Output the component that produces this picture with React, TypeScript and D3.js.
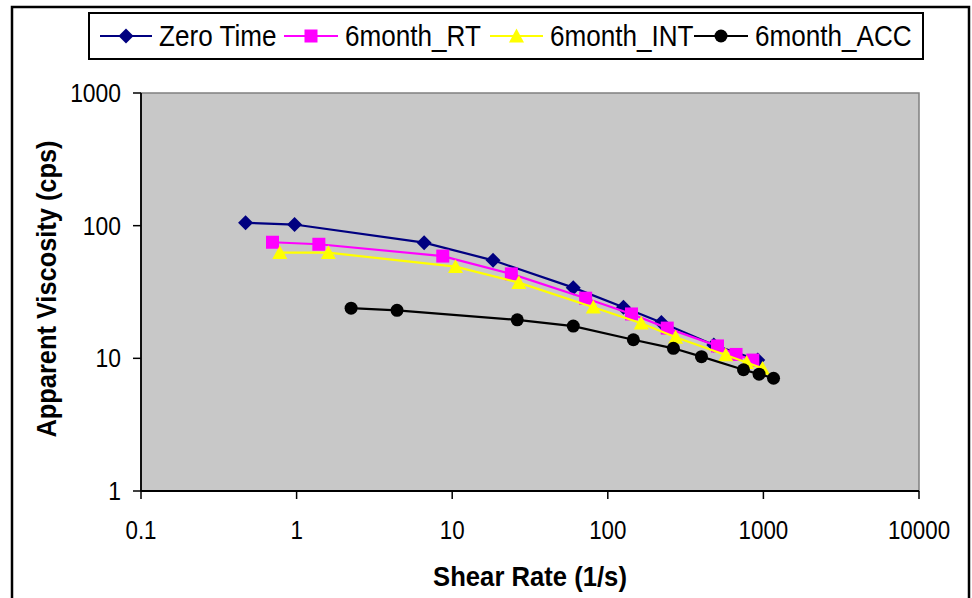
import React from "react";
import * as d3 from "d3";

const zeroX = [0.47, 0.97, 6.6, 18.3, 60, 126, 221, 480, 920];
const zeroY = [105, 102, 74.5, 54.8, 34.1, 24.3, 18.6, 12.6, 9.7];
const rtX = [0.7, 1.39, 8.7, 24, 72, 142, 241, 507, 667, 855];
const rtY = [75, 72.4, 59, 43.3, 28.4, 21.6, 16.9, 12.4, 10.7, 9.7];
const intX = [0.78, 1.6, 10.5, 26.8, 80.7, 164, 273, 573, 781, 986];
const intY = [62.6, 62.6, 49.1, 37.2, 24.3, 18.4, 14.4, 10.6, 9.3, 8.4];
const accX = [2.24, 4.42, 26.2, 60, 146, 264, 400, 745, 938, 1162];
const accY = [23.9, 23.0, 19.5, 17.5, 13.8, 11.9, 10.3, 8.2, 7.6, 7.08];

const xTicks = [0.1, 1, 10, 100, 1000, 10000];
const yTicks = [1, 10, 100, 1000];
const xTickLabels = ["0.1", "1", "10", "100", "1000", "10000"];
const yTickLabels = ["1", "10", "100", "1000"];

const seriesNames = ["Zero Time", "6month_RT", "6month_INT", "6month_ACC"];
const seriesColors = ["#000080", "#ff00ff", "#ffff00", "#000000"];
const seriesShapes = ["diamond", "square", "triangle", "circle"];

const FONT = "'Liberation Sans', Arial, Helvetica, sans-serif";

function Marker({ shape, x, y, color }: { shape: string; x: number; y: number; color: string }) {
  if (shape === "diamond") {
    const s = 7.5;
    return <path d={`M${x},${y - s}L${x + s},${y}L${x},${y + s}L${x - s},${y}Z`} fill={color} />;
  }
  if (shape === "square") {
    const s = 6.5;
    return <rect x={x - s} y={y - s} width={2 * s} height={2 * s} fill={color} />;
  }
  if (shape === "triangle") {
    const s = 7.5;
    return <path d={`M${x},${y - s}L${x + s},${y + s * 0.85}L${x - s},${y + s * 0.85}Z`} fill={color} />;
  }
  return <circle cx={x} cy={y} r={6.5} fill={color} />;
}

function SText({
  x, y, size, sx, anchor = "start", bold = false, rotate = 0, children,
}: {
  x: number; y: number; size: number; sx: number; anchor?: string; bold?: boolean; rotate?: number; children: React.ReactNode;
}) {
  return (
    <text
      transform={`translate(${x},${y}) rotate(${rotate}) scale(${sx},1)`}
      textAnchor={anchor}
      fontSize={size}
      fontWeight={bold ? "bold" : "normal"}
      fill="#000"
    >
      {children}
    </text>
  );
}

export default function App() {
  const W = 972, H = 598;
  const left = 141, right = 919, top = 93, bottom = 491;
  const x = d3.scaleLog().domain([0.1, 10000]).range([left, right]);
  const y = d3.scaleLog().domain([1, 1000]).range([bottom, top]);

  const data = [
    zeroX.map((v, i) => [v, zeroY[i]]),
    rtX.map((v, i) => [v, rtY[i]]),
    intX.map((v, i) => [v, intY[i]]),
    accX.map((v, i) => [v, accY[i]]),
  ];

  const line = d3
    .line<number[]>()
    .x((d) => x(d[0]))
    .y((d) => y(d[1]));

  const legY = 36;
  const legItems = [
    { x1: 100, x2: 152, tx: 159 },
    { x1: 284, x2: 338, tx: 345 },
    { x1: 490, x2: 543, tx: 550 },
    { x1: 694, x2: 748, tx: 755 },
  ];

  return (
    <svg
      width={W}
      height={H}
      style={{ position: "absolute", left: 0, top: 0, display: "block" }}
      fontFamily={FONT}
    >
      <rect x={0} y={0} width={W} height={H} fill="#ffffff" />
      <rect x={12} y={7} width={957} height={620} fill="#ffffff" stroke="#000" strokeWidth={2.5} />
      <rect x={left} y={top} width={right - left} height={bottom - top} fill="#c8c8c8" stroke="#808080" strokeWidth={1.5} />

      <line x1={left} x2={left} y1={top} y2={bottom} stroke="#000" strokeWidth={1.8} />
      <line x1={left} x2={right} y1={bottom} y2={bottom} stroke="#000" strokeWidth={1.8} />
      {yTicks.map((t, i) => (
        <g key={"y" + i}>
          <line x1={left - 8} x2={left} y1={y(t)} y2={y(t)} stroke="#000" strokeWidth={1.5} />
          <SText x={left - 20} y={y(t) + 9} size={26} sx={0.88} anchor="end">
            {yTickLabels[i]}
          </SText>
        </g>
      ))}
      {xTicks.map((t, i) => (
        <g key={"x" + i}>
          <line x1={x(t)} x2={x(t)} y1={bottom} y2={bottom + 8} stroke="#000" strokeWidth={1.5} />
          <SText x={x(t)} y={539} size={26} sx={0.86} anchor="middle">
            {xTickLabels[i]}
          </SText>
        </g>
      ))}

      <SText x={530} y={586} size={27} sx={0.95} anchor="middle" bold>
        Shear Rate (1/s)
      </SText>
      <SText x={56} y={289} size={27} sx={0.94} anchor="middle" bold rotate={-90}>
        Apparent Viscosity (cps)
      </SText>

      {data.map((pts, si) => (
        <g key={"s" + si}>
          <path d={line(pts) || ""} fill="none" stroke={seriesColors[si]} strokeWidth={2.2} />
          {pts.map((p, pi) => (
            <Marker key={pi} shape={seriesShapes[si]} x={x(p[0])} y={y(p[1])} color={seriesColors[si]} />
          ))}
        </g>
      ))}

      <rect x={89} y={13} width={834} height={46} fill="#ffffff" stroke="#000" strokeWidth={2} />
      {legItems.map((it, i) => (
        <g key={"l" + i}>
          <line x1={it.x1} x2={it.x2} y1={legY} y2={legY} stroke={seriesColors[i]} strokeWidth={2.2} />
          <Marker shape={seriesShapes[i]} x={(it.x1 + it.x2) / 2} y={legY} color={seriesColors[i]} />
          <SText x={it.tx} y={legY + 10} size={29} sx={0.9}>
            {seriesNames[i]}
          </SText>
        </g>
      ))}
    </svg>
  );
}
